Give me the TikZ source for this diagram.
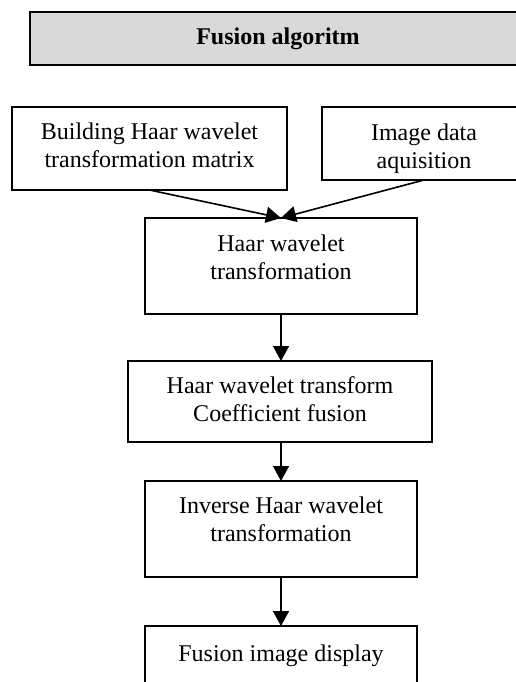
\documentclass[tikz,border=0pt]{standalone}
\usepackage{fontspec}
\setmainfont{Liberation Serif}
\usetikzlibrary{arrows.meta}
\definecolor{titlegray}{HTML}{D9D9D9}
\begin{document}
\begin{tikzpicture}[x=1pt,y=-1pt,
  box/.style={draw=black, line width=1.6pt, fill=white, inner sep=0pt, outer sep=0pt, anchor=north west},
  lbl/.style={inner sep=0pt, outer sep=0pt, anchor=north, align=center, font=\fontsize{24}{28}\selectfont},
  conn/.style={line width=1.6pt, -{Triangle[length=15pt,width=16pt]}}]
\clip (0,0) rectangle (516,682);
\fill[white] (0,0) rectangle (516,682);
% title
\node[box, fill=titlegray, minimum width=496pt, minimum height=53pt] (tb) at (30,12) {};
\node[inner sep=0pt, anchor=base, font=\fontsize{24}{28}\selectfont\bfseries] (tt) at (278,45) {Fusion algoritm};
% boxes
\node[box, minimum width=275pt, minimum height=83pt] (b1) at (12,107) {};
\node[box, minimum width=204pt, minimum height=73pt] (b2) at (322,107) {};
\node[box, minimum width=272pt, minimum height=96pt] (b3) at (145,218) {};
\node[box, minimum width=304pt, minimum height=81pt] (b4) at (128,361) {};
\node[box, minimum width=272pt, minimum height=96pt] (b5) at (145,481) {};
\node[box, minimum width=272pt, minimum height=80pt] (b6) at (145,626) {};
% labels
\node[lbl] (t1) at ([yshift=-15.6pt]b1.north) {Building Haar wavelet\\transformation matrix};
\node[lbl] (t2) at ([yshift=-16.6pt]b2.north) {Image data\\aquisition};
\node[lbl] (t3) at ([yshift=-16.6pt]b3.north) {Haar wavelet\\transformation};
\node[lbl] (t4) at ([yshift=-15.6pt]b4.north) {Haar wavelet transform\\Coefficient fusion};
\node[lbl] (t5) at ([yshift=-15.6pt]b5.north) {Inverse Haar wavelet\\transformation};
\node[lbl] (t6) at ([yshift=-18.6pt]b6.north) {Fusion image display};
% connectors
\draw[conn] (b1.south) -- (b3.north);
\draw[conn] (b2.south) -- (b3.north);
\draw[conn] (b3.south) -- (b3.south |- b4.north);
\draw[conn] (b4.south -| b5.north) -- (b5.north);
\draw[conn] (b5.south) -- (b6.north);
\end{tikzpicture}
\end{document}
